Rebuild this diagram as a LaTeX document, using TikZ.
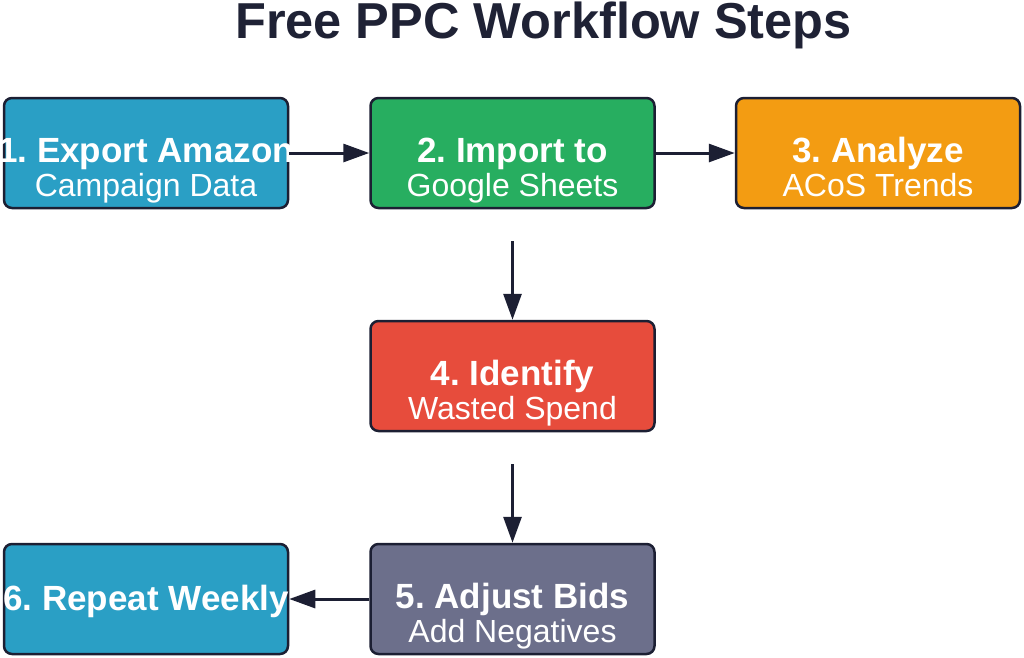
\documentclass[tikz,border=0pt]{standalone}
\usepackage{fontspec}
\setmainfont{Liberation Sans}
\usetikzlibrary{arrows.meta}
\frenchspacing
\definecolor{cEdge}{HTML}{1C1F33}
\definecolor{cTitle}{HTML}{1F2235}
\definecolor{cBlue}{HTML}{2A9FC5}
\definecolor{cGreen}{HTML}{27AE60}
\definecolor{cOrange}{HTML}{F39C12}
\definecolor{cRed}{HTML}{E74C3C}
\definecolor{cSlate}{HTML}{6C6F8B}
\tikzset{
  box/.style={draw=cEdge, line width=2.5pt, rounded corners=8pt,
    minimum width=284pt, minimum height=110pt, inner sep=0pt},
  headtxt/.style={anchor=base, text=white, inner sep=0pt,
    font=\fontsize{35}{37}\selectfont\bfseries},
  subtxt/.style={anchor=base, text=white, inner sep=0pt,
    font=\fontsize{32}{34}\selectfont},
  conn/.style={draw=cEdge, line width=3pt,
    -{Triangle[length=26pt,width=18pt]}},
}
\begin{document}
\begin{tikzpicture}[x=1pt,y=-1pt]
\useasboundingbox (0,0) rectangle (1024,657);
% title
\node[anchor=base, text=cTitle, inner sep=0pt, font=\fontsize{50.5}{52}\selectfont\bfseries]
  (title) at (543.5,38) {Free PPC Workflow Steps};
% boxes
\node[box, fill=cBlue]   (b1) at (146,153) {};
\node[box, fill=cGreen]  (b2) at (512.5,153) {};
\node[box, fill=cOrange] (b3) at (878,153) {};
\node[box, fill=cRed]    (b4) at (512.5,376) {};
\node[box, fill=cSlate]  (b5) at (512.5,599) {};
\node[box, fill=cBlue]   (b6) at (146,599) {};
% texts
\node[headtxt] (h1) at (146,162) {1. Export Amazon};
\node[subtxt]  (s1) at (146,196) {Campaign Data};
\node[headtxt] (h2) at (512.5,162) {2. Import to};
\node[subtxt]  (s2) at (512.5,196) {Google Sheets};
\node[headtxt] (h3) at (878,162) {3. Analyze};
\node[subtxt]  (s3) at (878,196) {ACoS Trends};
\node[headtxt] (h4) at (512.5,385) {4. Identify};
\node[subtxt]  (s4) at (512.5,419) {Wasted Spend};
\node[headtxt] (h5) at (512.5,608) {5. Adjust Bids};
\node[subtxt]  (s5) at (512.5,642) {Add Negatives};
\node[headtxt] (h6) at (146,610) {6. Repeat Weekly};
% connectors
\draw[conn] (b1.east) -- (b2.west);
\draw[conn] (b2.east) -- (b3.west);
\draw[conn, shorten <=32pt] (b2.south) -- (b4.north);
\draw[conn, shorten <=32pt] (b4.south) -- (b5.north);
\draw[conn] (b5.west) -- (b6.east);
\end{tikzpicture}
\end{document}
